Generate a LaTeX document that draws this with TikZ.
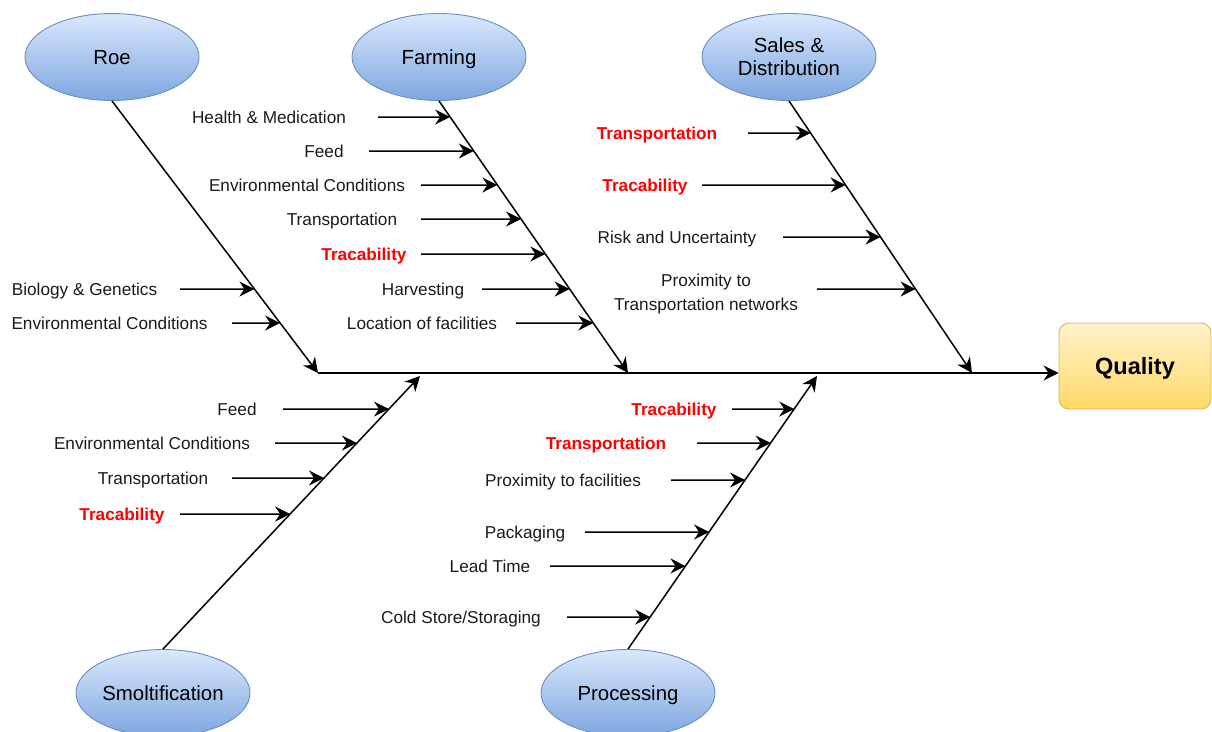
\documentclass[tikz,border=0pt]{standalone}
\usepackage{fontspec}
\setmainfont{Liberation Sans}
\usetikzlibrary{arrows.meta,shapes.geometric}

\definecolor{catTop}{HTML}{DAE8FC}
\definecolor{catBottom}{HTML}{7EA6E0}
\definecolor{catLine}{HTML}{6C8EBF}
\definecolor{effTop}{HTML}{FFF2CC}
\definecolor{effBottom}{HTML}{FFD966}
\definecolor{effLine}{HTML}{D6B656}
\definecolor{ink}{HTML}{1A1A1A}
\definecolor{hotred}{HTML}{FF0000}

% cause arrow: from its start coordinate horizontally to the bone #2--#3
\newcommand\causeto[3]{%
  \draw[arr] (#1) -- (intersection cs: first line={(#2)--(#3)}, second line={([xshift=-50pt]#1)--(#1)});}

\begin{document}
\begin{tikzpicture}[x=1pt,y=-1pt,
  category/.style={ellipse, draw=catLine, line width=0.9pt, top color=catTop, bottom color=catBottom,
    minimum width=174pt, minimum height=87pt, inner sep=0pt, align=center, text=black,
    font=\fontsize{20.4}{23}\selectfont, text height=14.6pt, text depth=0pt},
  effect/.style={rectangle, rounded corners=10pt, draw=effLine, line width=0.9pt, top color=effTop, bottom color=effBottom,
    minimum width=152pt, minimum height=86pt, inner sep=0pt, text=black,
    font=\fontsize{23.5}{27}\bfseries, text height=16.8pt, text depth=0pt},
  lbl/.style={inner sep=0pt, align=center, text=ink, font=\fontsize{17.2}{24}\selectfont,
    text height=12.3pt, text depth=0pt},
  hot/.style={lbl, text=hotred, font=\fontsize{17.2}{24}\selectfont\bfseries},
  bone/.style={line width=1.5pt, -{Stealth[length=15pt,width=15pt,inset=5pt]}},
  arr/.style={line width=1.5pt, -{Stealth[length=15pt,width=15pt,inset=5pt]}}
]
\useasboundingbox (0,0) rectangle (1212,731);
\clip (0,0) rectangle (1212,731);

% categories and effect
\node[category] (roe) at (112,57) {Roe};
\node[category] (farming) at (439,57) {Farming};
\node[category, text height=37.6pt] (sales) at (789,57) {Sales \&\\Distribution};
\node[category] (smolt) at (163,693) {Smoltification};
\node[category] (proc) at (628,693) {Processing};
\node[effect] (quality) at (1135,366) {Quality};

% bone ends on the spine
\coordinate (roeEnd) at (318,373);
\coordinate (farmEnd) at (628,373);
\coordinate (salesEnd) at (972,373);
\coordinate (smoltEnd) at (420,376);
\coordinate (procEnd) at (817,376);

% spine and bones
\draw[bone] (roeEnd) -- (roeEnd -| quality.west);
\draw[bone] (roe.south) -- (roeEnd);
\draw[bone] (farming.south) -- (farmEnd);
\draw[bone] (sales.south) -- (salesEnd);
\draw[bone] (smolt.north) -- (smoltEnd);
\draw[bone] (proc.north) -- (procEnd);

% Roe causes
\node[lbl] (r1) at (84.5,289) {Biology \& Genetics};
\node[lbl] (r2) at (109.5,323) {Environmental Conditions};
\coordinate (r1s) at (180,289);
\coordinate (r2s) at (232,323);
\causeto{r1s}{roe.south}{roeEnd}
\causeto{r2s}{roe.south}{roeEnd}

% Farming causes
\node[lbl] (f1) at (269,117) {Health \& Medication};
\node[lbl] (f2) at (324,151) {Feed};
\node[lbl] (f3) at (307,185) {Environmental Conditions};
\node[lbl] (f4) at (342,219) {Transportation};
\node[hot] (f5) at (364,254) {Tracability};
\node[lbl] (f6) at (423,289) {Harvesting};
\node[lbl] (f7) at (422,323) {Location of facilities};
\coordinate (f1s) at (378,117);
\coordinate (f2s) at (369,151);
\coordinate (f3s) at (421,185);
\coordinate (f4s) at (421,219);
\coordinate (f5s) at (421,254);
\coordinate (f6s) at (482,289);
\coordinate (f7s) at (516,323);
\foreach \c in {f1s,f2s,f3s,f4s,f5s,f6s,f7s}{\causeto{\c}{farming.south}{farmEnd}}

% Sales & Distribution causes
\node[hot] (s1) at (657,133) {Transportation};
\node[hot] (s2) at (645,185) {Tracability};
\node[lbl] (s3) at (677,237) {Risk and Uncertainty};
\node[lbl, text height=36.3pt] (s4) at (706,292) {Proximity to\\Transportation networks};
\coordinate (s1s) at (748,133);
\coordinate (s2s) at (702,185);
\coordinate (s3s) at (783,237);
\coordinate (s4s) at (817,289);
\foreach \c in {s1s,s2s,s3s,s4s}{\causeto{\c}{sales.south}{salesEnd}}

% Smoltification causes
\node[lbl] (m1) at (237,409) {Feed};
\node[lbl] (m2) at (152,443) {Environmental Conditions};
\node[lbl] (m3) at (153,478) {Transportation};
\node[hot] (m4) at (122,514) {Tracability};
\coordinate (m1s) at (283,409);
\coordinate (m2s) at (275,443);
\coordinate (m3s) at (232,478);
\coordinate (m4s) at (180,514);
\foreach \c in {m1s,m2s,m3s,m4s}{\causeto{\c}{smolt.north}{smoltEnd}}

% Processing causes
\node[hot] (p1) at (674,409) {Tracability};
\node[hot] (p2) at (606,443) {Transportation};
\node[lbl] (p3) at (563,480) {Proximity to facilities};
\node[lbl] (p4) at (525,532) {Packaging};
\node[lbl] (p5) at (490,566) {Lead Time};
\node[lbl] (p6) at (461,617) {Cold Store/Storaging};
\coordinate (p1s) at (732,409);
\coordinate (p2s) at (697,443);
\coordinate (p3s) at (671,480);
\coordinate (p4s) at (585,532);
\coordinate (p5s) at (550,566);
\coordinate (p6s) at (567,617);
\foreach \c in {p1s,p2s,p3s,p4s,p5s,p6s}{\causeto{\c}{proc.north}{procEnd}}
\end{tikzpicture}
\end{document}
